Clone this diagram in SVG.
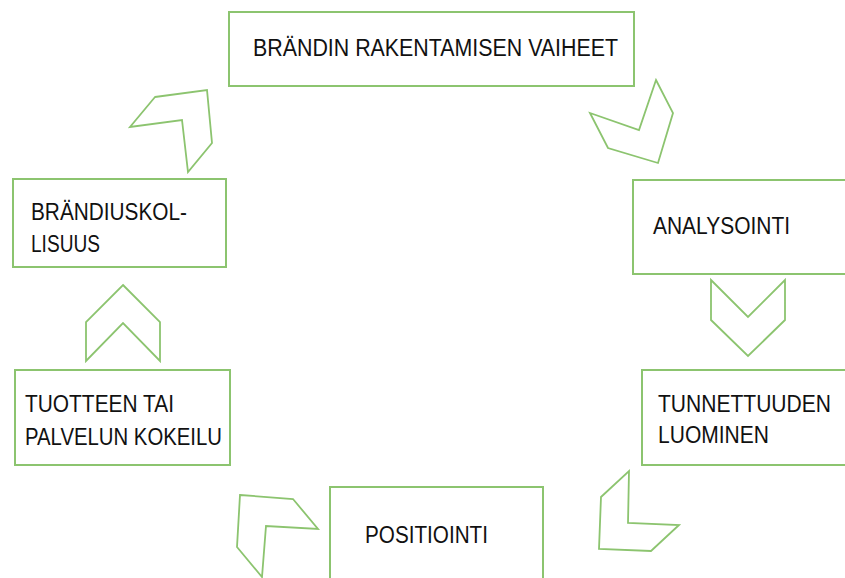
<svg xmlns="http://www.w3.org/2000/svg" width="845" height="578" viewBox="0 0 845 578">
<style>
.box{fill:#fff;stroke:#8CC46F;stroke-width:2}
.chev{fill:#fff;stroke:#8CC46F;stroke-width:1.8;stroke-linejoin:miter}
.t{font-family:"Liberation Sans",Arial,sans-serif;font-size:23px;fill:#111}
</style>
<rect width="845" height="578" fill="#fff"/>
<g id="connectors">
<polygon class="chev" points="656,80 673,113 658,163 608,148 590,113 639,130"/>
<polygon class="chev" points="711,280 748,317 785,280 785,320 748,356 711,320"/>
<polygon class="chev" points="629,471 628,523 679,525 651,551 599,549 601,497"/>
<polygon class="chev" points="240,495 293,499 318,529 266,526 262,577 237,547"/>
<polygon class="chev" points="123,285 160,322 160,361 123,323 86,361 86,322"/>
<polygon class="chev" points="155,97 207,90 212,143 188,172 182,120 130,127"/>
</g>
<g id="node-vaiheet">
<rect class="box" x="229" y="12" width="405" height="74"/>
<text class="t" x="253" y="56" textLength="365" lengthAdjust="spacingAndGlyphs">BRÄNDIN RAKENTAMISEN VAIHEET</text>
</g>
<g id="node-analysointi">
<rect class="box" x="633" y="180" width="214" height="94"/>
<text class="t" x="653" y="234" textLength="137" lengthAdjust="spacingAndGlyphs">ANALYSOINTI</text>
</g>
<g id="node-tunnettuus">
<rect class="box" x="642" y="370" width="205" height="95"/>
<text class="t" x="658" y="412" textLength="173" lengthAdjust="spacingAndGlyphs">TUNNETTUUDEN</text>
<text class="t" x="658" y="443" textLength="111" lengthAdjust="spacingAndGlyphs">LUOMINEN</text>
</g>
<g id="node-positiointi">
<rect class="box" x="330" y="487" width="213" height="93"/>
<text class="t" x="365" y="543" textLength="123" lengthAdjust="spacingAndGlyphs">POSITIOINTI</text>
</g>
<g id="node-kokeilu">
<rect class="box" x="15" y="370" width="215" height="95"/>
<text class="t" x="25" y="412" textLength="149" lengthAdjust="spacingAndGlyphs">TUOTTEEN TAI</text>
<text class="t" x="25" y="445" textLength="197" lengthAdjust="spacingAndGlyphs">PALVELUN KOKEILU</text>
</g>
<g id="node-brandiuskollisuus">
<rect class="box" x="13" y="179" width="213" height="88"/>
<text class="t" x="31" y="220" textLength="156" lengthAdjust="spacingAndGlyphs">BRÄNDIUSKOL-</text>
<text class="t" x="31" y="252" textLength="69" lengthAdjust="spacingAndGlyphs">LISUUS</text>
</g>
</svg>
